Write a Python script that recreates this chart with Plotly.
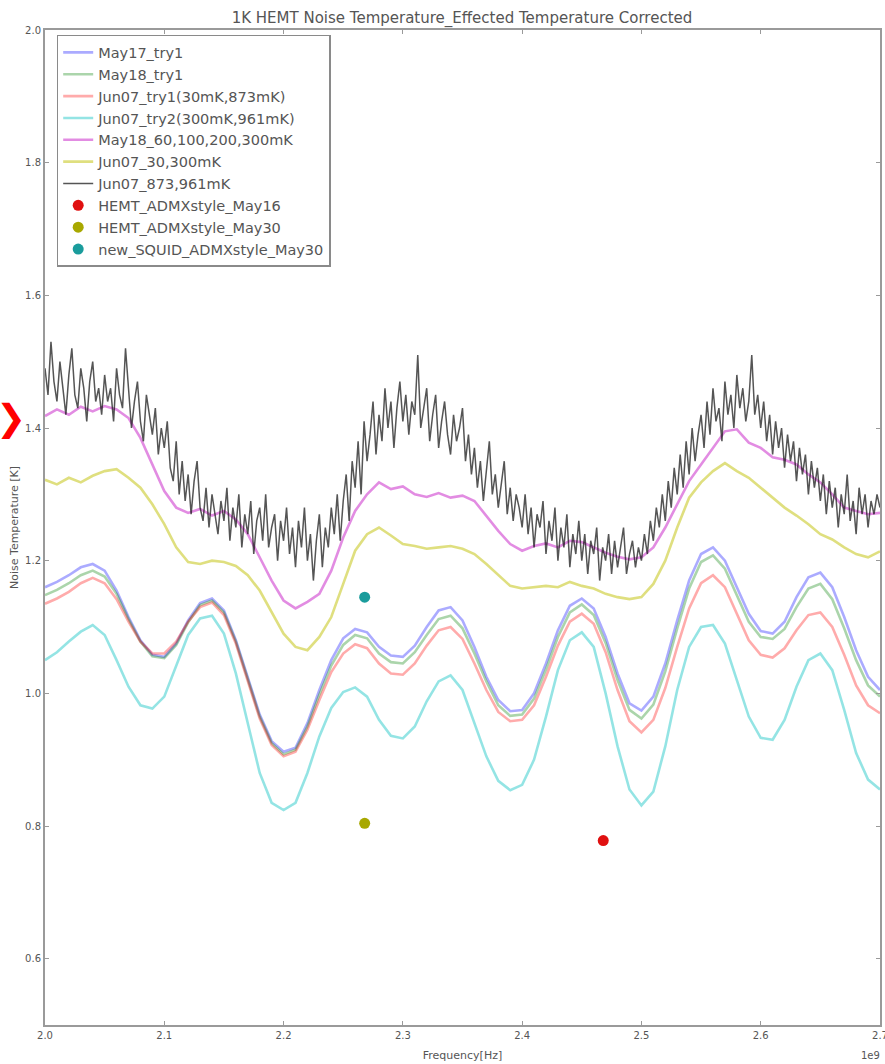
import numpy as np
import plotly.graph_objects as go

# Frequency grids (GHz, shown with 1e9 offset)
freq = np.round(np.arange(2.00, 2.7001, 0.01), 3)
freq_fine = np.round(np.arange(2.000, 2.7001, 0.0025), 4)
x_ticks = [2.0, 2.1, 2.2, 2.3, 2.4, 2.5, 2.6, 2.7]
y_ticks = [0.6, 0.8, 1.0, 1.2, 1.4, 1.6, 1.8, 2.0]

may17_try1 = [1.160, 1.168, 1.178, 1.190, 1.195, 1.185, 1.155, 1.115, 1.080, 1.058,
              1.055, 1.075, 1.110, 1.136, 1.143, 1.125, 1.080, 1.025, 0.968, 0.928,
              0.912, 0.918, 0.955, 1.005, 1.050, 1.083, 1.097, 1.092, 1.070, 1.057,
              1.055, 1.072, 1.100, 1.125, 1.130, 1.110, 1.070, 1.025, 0.990, 0.973,
              0.975, 1.000, 1.045, 1.095, 1.132, 1.143, 1.128, 1.085, 1.030, 0.985,
              0.974, 0.995, 1.045, 1.110, 1.170, 1.210, 1.220, 1.200, 1.160, 1.120,
              1.094, 1.090, 1.108, 1.145, 1.175, 1.182, 1.160, 1.115, 1.065, 1.025,
              1.005]

may18_try1 = [1.148, 1.156, 1.166, 1.178, 1.185, 1.176, 1.150, 1.112, 1.078, 1.056,
              1.053, 1.073, 1.107, 1.133, 1.140, 1.122, 1.078, 1.022, 0.965, 0.925,
              0.908, 0.915, 0.950, 0.998, 1.042, 1.073, 1.088, 1.083, 1.060, 1.047,
              1.045, 1.062, 1.088, 1.112, 1.117, 1.098, 1.060, 1.018, 0.982, 0.966,
              0.968, 0.992, 1.036, 1.085, 1.122, 1.134, 1.118, 1.076, 1.020, 0.975,
              0.962, 0.983, 1.033, 1.098, 1.158, 1.198, 1.208, 1.188, 1.148, 1.108,
              1.085, 1.082, 1.097, 1.130, 1.158, 1.165, 1.142, 1.098, 1.050, 1.012,
              0.995]

jun07_try1 = [1.135, 1.143, 1.153, 1.166, 1.174, 1.166, 1.142, 1.108, 1.078, 1.060,
              1.060, 1.078, 1.108, 1.130, 1.137, 1.118, 1.075, 1.020, 0.962, 0.922,
              0.905, 0.912, 0.945, 0.990, 1.032, 1.060, 1.074, 1.068, 1.045, 1.030,
              1.028, 1.045, 1.072, 1.095, 1.100, 1.082, 1.045, 1.005, 0.972, 0.958,
              0.960, 0.982, 1.025, 1.072, 1.108, 1.120, 1.105, 1.062, 1.005, 0.958,
              0.941, 0.960, 1.008, 1.070, 1.128, 1.166, 1.178, 1.160, 1.120, 1.080,
              1.058, 1.054, 1.068, 1.095, 1.118, 1.122, 1.100, 1.058, 1.012, 0.982,
              0.970]

jun07_try2 = [1.050, 1.062, 1.078, 1.093, 1.103, 1.088, 1.050, 1.010, 0.982, 0.977,
              0.995, 1.040, 1.088, 1.113, 1.117, 1.090, 1.030, 0.955, 0.880, 0.835,
              0.824, 0.835, 0.880, 0.935, 0.978, 1.002, 1.009, 0.995, 0.960, 0.936,
              0.932, 0.950, 0.988, 1.018, 1.027, 1.005, 0.955, 0.905, 0.868, 0.854,
              0.862, 0.900, 0.965, 1.035, 1.080, 1.092, 1.070, 1.000, 0.920, 0.855,
              0.831, 0.852, 0.920, 1.005, 1.070, 1.100, 1.103, 1.075, 1.020, 0.965,
              0.933, 0.930, 0.960, 1.010, 1.050, 1.060, 1.035, 0.975, 0.910, 0.870,
              0.855]

may18_multi = [1.418, 1.428, 1.420, 1.432, 1.425, 1.433, 1.428, 1.415, 1.385, 1.345,
               1.305, 1.280, 1.272, 1.278, 1.268, 1.275, 1.262, 1.240, 1.205, 1.170,
               1.140, 1.128, 1.138, 1.150, 1.185, 1.235, 1.275, 1.300, 1.318, 1.308,
               1.312, 1.300, 1.296, 1.302, 1.295, 1.298, 1.290, 1.268, 1.245, 1.225,
               1.215, 1.222, 1.226, 1.220, 1.230, 1.228, 1.220, 1.212, 1.206, 1.202,
               1.205, 1.220, 1.250, 1.285, 1.320, 1.345, 1.370, 1.395, 1.398, 1.378,
               1.370, 1.356, 1.352, 1.345, 1.330, 1.318, 1.300, 1.280, 1.275, 1.270,
               1.272]

jun07_30_300 = [1.322, 1.315, 1.325, 1.318, 1.328, 1.335, 1.338, 1.325, 1.310, 1.285,
                1.255, 1.220, 1.198, 1.195, 1.200, 1.198, 1.192, 1.178, 1.155, 1.122,
                1.090, 1.070, 1.065, 1.085, 1.115, 1.165, 1.215, 1.240, 1.250, 1.238,
                1.225, 1.222, 1.218, 1.220, 1.222, 1.218, 1.210, 1.195, 1.178, 1.162,
                1.158, 1.160, 1.162, 1.160, 1.168, 1.162, 1.158, 1.150, 1.145, 1.142,
                1.145, 1.165, 1.200, 1.250, 1.295, 1.318, 1.335, 1.347, 1.335, 1.325,
                1.310, 1.295, 1.280, 1.268, 1.255, 1.240, 1.232, 1.220, 1.210, 1.205,
                1.214]

jun07_873_961 = [
    1.49, 1.45, 1.53, 1.47, 1.44, 1.50, 1.46, 1.42, 1.48, 1.52, 1.45, 1.43, 1.49, 1.46, 1.41, 1.47, 1.50, 1.44, 1.46, 1.42,
    1.48, 1.44, 1.46, 1.41, 1.49, 1.45, 1.43, 1.52, 1.46, 1.40, 1.44, 1.47, 1.41, 1.38, 1.45, 1.42, 1.39, 1.43, 1.36, 1.40,
    1.37, 1.41, 1.34, 1.32, 1.38, 1.30, 1.35, 1.29, 1.33, 1.27, 1.32, 1.35, 1.28, 1.26, 1.31, 1.25, 1.30, 1.27, 1.24, 1.29,
    1.26, 1.31, 1.23, 1.28, 1.25, 1.30, 1.22, 1.27, 1.24, 1.29, 1.21, 1.26, 1.28, 1.23, 1.30, 1.22, 1.25, 1.27, 1.20, 1.26,
    1.23, 1.28, 1.21, 1.25, 1.19, 1.26, 1.22, 1.28, 1.20, 1.24, 1.17, 1.23, 1.27, 1.19, 1.25, 1.22, 1.28, 1.24, 1.30, 1.23,
    1.29, 1.33, 1.26, 1.35, 1.31, 1.38, 1.30, 1.41, 1.35, 1.39, 1.44, 1.36, 1.42, 1.38, 1.46, 1.40, 1.44, 1.37, 1.43, 1.47,
    1.41, 1.45, 1.39, 1.44, 1.42, 1.51, 1.40, 1.43, 1.46, 1.38, 1.42, 1.45, 1.37, 1.41, 1.44, 1.39, 1.36, 1.42, 1.38, 1.40,
    1.43, 1.35, 1.39, 1.33, 1.37, 1.31, 1.35, 1.29, 1.34, 1.38, 1.30, 1.33, 1.28, 1.32, 1.35, 1.27, 1.31, 1.26, 1.30, 1.28,
    1.25, 1.30, 1.24, 1.28, 1.22, 1.27, 1.25, 1.29, 1.21, 1.26, 1.23, 1.28, 1.20, 1.25, 1.22, 1.27, 1.19, 1.24, 1.21, 1.26,
    1.20, 1.24, 1.18, 1.23, 1.21, 1.25, 1.17, 1.22, 1.20, 1.24, 1.18, 1.23, 1.19, 1.22, 1.25, 1.18, 1.21, 1.23, 1.19, 1.22,
    1.20, 1.24, 1.21, 1.26, 1.23, 1.28, 1.25, 1.30, 1.26, 1.32, 1.28, 1.34, 1.30, 1.36, 1.31, 1.38, 1.33, 1.40, 1.35, 1.39,
    1.42, 1.37, 1.44, 1.39, 1.46, 1.41, 1.43, 1.38, 1.47, 1.42, 1.45, 1.40, 1.48, 1.43, 1.46, 1.41, 1.44, 1.51, 1.42, 1.45,
    1.40, 1.44, 1.38, 1.42, 1.36, 1.41, 1.37, 1.40, 1.34, 1.39, 1.35, 1.38, 1.32, 1.37, 1.33, 1.36, 1.30, 1.35, 1.31, 1.34,
    1.29, 1.33, 1.27, 1.32, 1.28, 1.31, 1.25, 1.30, 1.27, 1.33, 1.26, 1.29, 1.24, 1.31, 1.27, 1.30, 1.25, 1.29, 1.27, 1.30,
    1.28]

# single measurements
hemt_may16_f, hemt_may16_t = [2.468], [0.778]
hemt_may30_f, hemt_may30_t = [2.268], [0.804]
squid_may30_f, squid_may30_t = [2.268], [1.145]

line_series = [
    ("May17_try1", may17_try1, "rgba(0,0,255,0.33)"),
    ("May18_try1", may18_try1, "rgba(0,128,0,0.33)"),
    ("Jun07_try1(30mK,873mK)", jun07_try1, "rgba(255,0,0,0.33)"),
    ("Jun07_try2(300mK,961mK)", jun07_try2, "rgba(0,191,191,0.42)"),
    ("May18_60,100,200,300mK", may18_multi, "rgba(191,0,191,0.45)"),
    ("Jun07_30,300mK", jun07_30_300, "rgba(191,191,0,0.5)"),
]

fig = go.Figure()
for name, vals, col in line_series:
    fig.add_trace(go.Scatter(x=freq, y=vals, mode="lines", name=name,
                             line=dict(color=col, width=2.6)))
fig.add_trace(go.Scatter(x=freq_fine, y=jun07_873_961, mode="lines", name="Jun07_873,961mK",
                         line=dict(color="rgba(20,20,20,0.72)", width=1.5)))

for name, fx, ty, col in [("HEMT_ADMXstyle_May16", hemt_may16_f, hemt_may16_t, "#e01010"),
                          ("HEMT_ADMXstyle_May30", hemt_may30_f, hemt_may30_t, "#a8a800"),
                          ("new_SQUID_ADMXstyle_May30", squid_may30_f, squid_may30_t, "#1a9c9c")]:
    fig.add_trace(go.Scatter(x=fx, y=ty, mode="markers", name=name,
                             marker=dict(color=col, size=11, line=dict(width=0))))

axis_common = dict(showline=True, mirror="ticks", linecolor="#9a9a9a", linewidth=2,
                   ticks="inside", ticklen=4, tickcolor="#9a9a9a", showgrid=False,
                   zeroline=False, automargin=False, ticklabeloverflow="allow",
                   tickfont=dict(size=10, color="#555", family="DejaVu Sans"))

fig.update_layout(
    width=885, height=1064,
    margin=dict(l=45, r=5, t=30, b=39),
    paper_bgcolor="white", plot_bgcolor="white",
    font=dict(family="DejaVu Sans", color="#444"),
    title=dict(text="1K HEMT Noise Temperature_Effected Temperature Corrected",
               x=0.522, xanchor="center", y=0.983, yanchor="middle",
               font=dict(size=15, color="#555")),
    xaxis=dict(range=[2.0, 2.70001], tickvals=x_ticks, tickformat=".1f",
               title=dict(text="Frequency[Hz]", font=dict(size=11, color="#555"), standoff=11),
               **axis_common),
    yaxis=dict(range=[0.5, 2.00001], tickvals=y_ticks, tickformat=".1f",
               title=dict(text="Noise Temperature [K]", font=dict(size=11, color="#555"), standoff=4),
               **axis_common),
    legend=dict(x=0.014, y=0.995, xanchor="left", yanchor="top",
                bgcolor="white", bordercolor="#8a8a8a", borderwidth=1.5,
                font=dict(size=14.5, color="#555", family="DejaVu Sans"),
                tracegroupgap=0, itemwidth=30),
    showlegend=True,
)

fig.add_annotation(text="1e9", xref="paper", yref="paper", x=1.0, y=0, yshift=-30,
                   xshift=2, xanchor="right", yanchor="middle", showarrow=False,
                   font=dict(size=10, color="#555"))
fig.add_annotation(text="❯", xref="paper", yref="paper", x=0, y=0.61, xshift=-51,
                   xanchor="left", yanchor="middle", showarrow=False,
                   font=dict(size=36, color="red", family="DejaVu Sans"))

fig.write_html("out.html", config={"displayModeBar": False},
               post_script="document.body.style.margin='0';")
